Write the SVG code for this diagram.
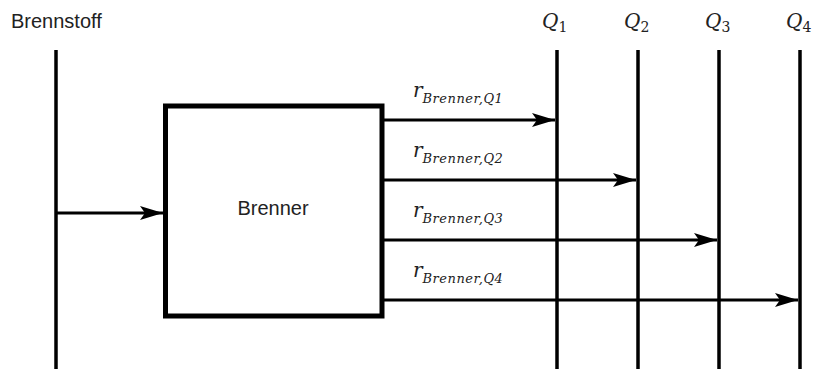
<svg xmlns="http://www.w3.org/2000/svg" width="814" height="369" viewBox="0 0 814 369">
<style>
.line{stroke:#000;stroke-width:3.5;fill:none}
.arr{stroke:#000;stroke-width:3;fill:none;marker-end:url(#ah)}
.sans{font-family:"Liberation Sans",Arial,sans-serif;font-size:20px;fill:#222}
.math{font-family:"DejaVu Serif","Liberation Serif",serif;font-style:italic;fill:#222}
.sub{font-size:13px;letter-spacing:0.5px}
</style>
<defs>
<marker id="ah" markerUnits="userSpaceOnUse" markerWidth="24" markerHeight="16" refX="23" refY="7" orient="auto" viewBox="0 0 24 14">
<path d="M0,0 L23,7 L0,14 L5,7 Z" fill="#000"/>
</marker>
</defs>
<rect width="814" height="369" fill="#fff"/>
<g id="labels">
<text class="sans" x="11" y="28">Brennstoff</text>
<text class="math" x="542" y="28" font-size="20">Q<tspan font-style="normal" font-size="14" dy="4">1</tspan></text>
<text class="math" x="624" y="28" font-size="20">Q<tspan font-style="normal" font-size="14" dy="4">2</tspan></text>
<text class="math" x="705" y="28" font-size="20">Q<tspan font-style="normal" font-size="14" dy="4">3</tspan></text>
<text class="math" x="786" y="28" font-size="20">Q<tspan font-style="normal" font-size="14" dy="4">4</tspan></text>
</g>
<g id="busses">
<line class="line" x1="56" y1="50" x2="56" y2="369"/>
<line class="line" x1="557" y1="50" x2="557" y2="369"/>
<line class="line" x1="638" y1="50" x2="638" y2="369"/>
<line class="line" x1="719" y1="50" x2="719" y2="369"/>
<line class="line" x1="800" y1="50" x2="800" y2="369"/>
</g>
<g id="brenner">
<rect x="165.5" y="106" width="216.5" height="210" fill="#fff" stroke="#000" stroke-width="5"/>
<text class="sans" x="273" y="215" text-anchor="middle">Brenner</text>
</g>
<g id="connectors">
<line class="arr" x1="56" y1="213" x2="163" y2="213"/>
<line class="arr" x1="384" y1="120" x2="555" y2="120"/>
<line class="arr" x1="384" y1="180" x2="636" y2="180"/>
<line class="arr" x1="384" y1="240" x2="717" y2="240"/>
<line class="arr" x1="384" y1="300" x2="798" y2="300"/>
</g>
<g id="flow-labels">
<text class="math" x="413" y="97" font-size="20">r<tspan class="sub" dy="6">Brenner,Q1</tspan></text>
<text class="math" x="413" y="157" font-size="20">r<tspan class="sub" dy="6">Brenner,Q2</tspan></text>
<text class="math" x="413" y="217" font-size="20">r<tspan class="sub" dy="6">Brenner,Q3</tspan></text>
<text class="math" x="413" y="277" font-size="20">r<tspan class="sub" dy="6">Brenner,Q4</tspan></text>
</g>
</svg>
